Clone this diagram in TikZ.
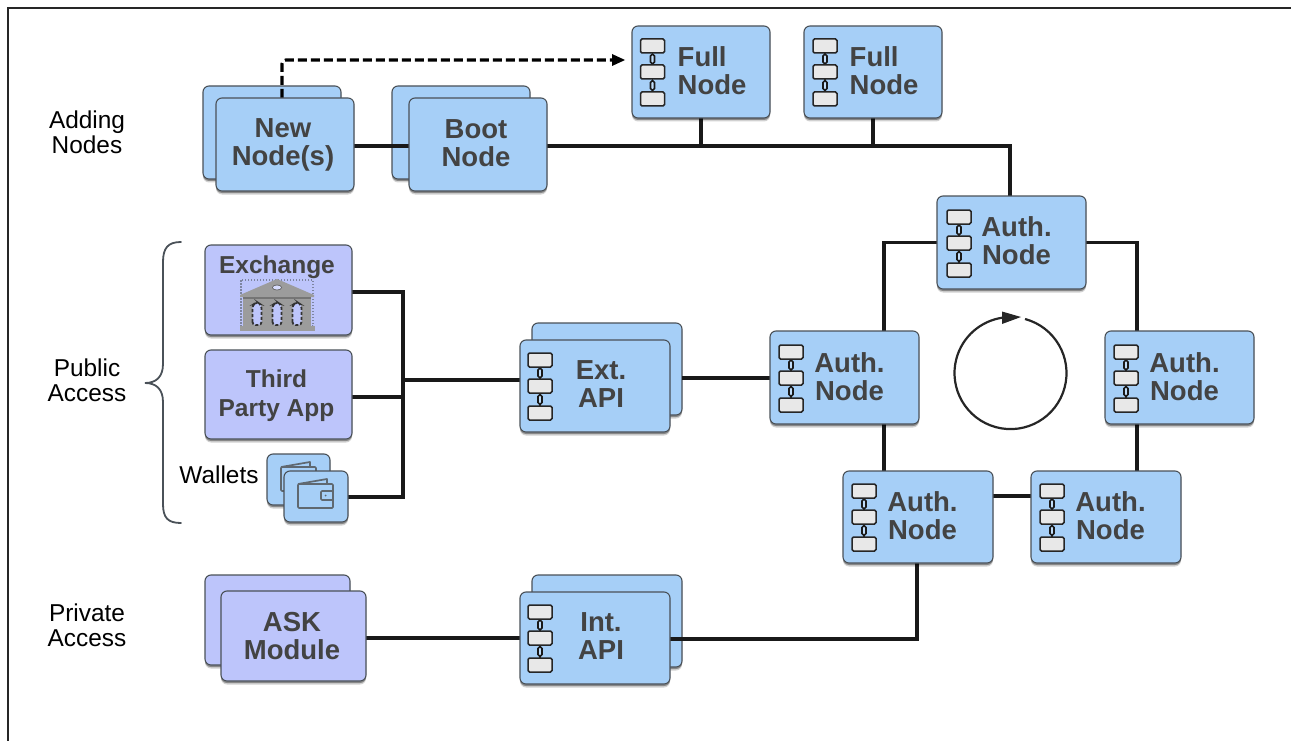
\documentclass[tikz,border=0pt]{standalone}
\usepackage{fontspec}
\setmainfont{Liberation Sans}
\usetikzlibrary{shadows,arrows.meta}
\definecolor{boxblue}{HTML}{A6CFF7}
\definecolor{boxlav}{HTML}{BDC5FB}
\definecolor{boxedge}{HTML}{4A5158}
\definecolor{boxtext}{HTML}{434343}
\definecolor{wgray}{HTML}{5F6870}
\definecolor{bank}{HTML}{9C9C9C}
\pgfdeclarelayer{backboxes}
\pgfdeclarelayer{wires}
\pgfsetlayers{backboxes,wires,main}
\tikzset{
  x=1pt,y=-1pt,
  panel/.style={draw=boxedge,line width=1.1pt,rounded corners=6pt,inner sep=0pt,outer sep=0pt,
     general shadow={shadow xshift=0pt,shadow yshift=-3.5pt,opacity=.18,fill=black},
     general shadow={shadow xshift=0pt,shadow yshift=-2pt,opacity=.35,fill=black}},
  blue/.style={panel,fill=boxblue},
  lav/.style={panel,fill=boxlav},
  bigt/.style={font=\fontsize{27.5}{28.5}\selectfont\bfseries,text=boxtext,inner sep=0pt,align=center},
  smallt/.style={font=\fontsize{24.5}{29}\selectfont\bfseries,text=boxtext,inner sep=0pt,align=center},
  side/.style={font=\fontsize{24.4}{25}\selectfont,text=black,inner sep=0pt,align=center},
  wire/.style={draw=black!90,line width=3.5pt,line cap=butt,line join=miter},
  chainbox/.style={draw=black!85,fill=black!9,line width=1.5pt,rounded corners=1.5pt},
  chainlink/.style={draw=black!90,fill=boxblue!70!white,line width=1.7pt,rounded corners=1.5pt},
  wallet/.style={draw=wgray,line width=1.7pt,line join=round},
}
\newcommand{\mybox}[6]{% style, name, x1,y1,x2,y2
  \pgfmathsetmacro{\bcx}{(#3+#5)/2}\pgfmathsetmacro{\bcy}{(#4+#6)/2}
  \pgfmathsetmacro{\bw}{#5-#3}\pgfmathsetmacro{\bh}{#6-#4}
  \node[#1,minimum width=\bw pt,minimum height=\bh pt] (#2) at (\bcx,\bcy) {};
}
\newcommand{\chainicon}[2]{% x centre, y centre
  \begin{scope}[shift={(#1,#2)}]
    \draw[black!85,line width=1.2pt] (0,-26) -- (0,27);
    \draw[chainlink] (-2,-17.5) rectangle (2,-8.5);
    \draw[chainlink] (-2,9) rectangle (2,18);
    \draw[chainbox] (-12,-33) rectangle (12,-19);
    \draw[chainbox] (-12,-7) rectangle (12,7);
    \draw[chainbox] (-12,20) rectangle (12,34);
  \end{scope}
}
\newcommand{\walleticon}[2]{%
  \begin{scope}[shift={(#1,#2)}]
    \draw[wallet,fill=boxblue] (0,6) -- (29,1) -- (29,6);
    \draw[wallet,fill=boxblue,rounded corners=1pt] (0,6) rectangle (35,30);
    \draw[wallet,fill=boxblue,rounded corners=1pt] (23,13) rectangle (35,22);
    \fill[wgray] (27.5,17.5) circle (1pt);
  \end{scope}
}
\begin{document}
\begin{tikzpicture}
\useasboundingbox (0,0) rectangle (1291,741);
\draw[black!85,line width=1.2pt] (8,741) -- (8,8) -- (1291,8);

% back boxes
\begin{pgfonlayer}{backboxes}
  \mybox{blue}{newb}{203}{86}{341}{179}
  \mybox{blue}{bootb}{392}{86}{530}{179}
  \mybox{blue}{extb}{532}{323}{682}{415}
  \mybox{blue}{intb}{532}{575}{682}{667}
  \mybox{lav}{askb}{205}{575}{350}{665}
\end{pgfonlayer}

% front boxes
\mybox{blue}{newf}{216}{98}{354}{191}
\mybox{blue}{bootf}{409}{98}{547}{191}
\mybox{blue}{fullA}{632}{26}{770}{118}
\mybox{blue}{fullB}{804}{26}{942}{118}
\mybox{blue}{authT}{937}{196}{1086}{289}
\mybox{blue}{authL}{770}{331}{919}{424}
\mybox{blue}{authR}{1105}{331}{1254}{424}
\mybox{blue}{authBL}{843}{471}{993}{563}
\mybox{blue}{authBR}{1031}{471}{1181}{563}
\mybox{blue}{extf}{520}{340}{670}{432}
\mybox{blue}{intf}{520}{592}{670}{684}
\mybox{lav}{askf}{221}{591}{366}{681}
\mybox{lav}{exch}{205}{245}{352}{335}
\mybox{lav}{third}{205}{350}{352}{439}
\mybox{blue}{walletb}{267}{454}{330}{505}
\walleticon{281}{461}
\mybox{blue}{walletf}{284}{471}{348}{522}
\walleticon{298}{478}

% connectors
\begin{pgfonlayer}{wires}
  \coordinate (hubExt) at (403,380);
  \coordinate (dashTop) at (282,60);
  \coordinate (fullIn) at (625,60);
  \draw[wire] (newf.east |- 0,146) -- (bootf.west |- 0,146);
  \draw[wire] (bootf.east |- 0,146) -- (1010,146) -- (1010,196);
  \draw[wire] (fullA.south) -- (fullA.south |- 0,146);
  \draw[wire] (fullB.south) -- (fullB.south |- 0,146);
  \draw[wire] (authT.west) -- (884,242.5) -- (884,331);
  \draw[wire] (authT.east) -- (1137,242.5) -- (1137,331);
  \draw[wire] (884,424) -- (884,471);
  \draw[wire] (1137,424) -- (1137,471);
  \draw[wire] (authBL.east |- 0,496) -- (authBR.west |- 0,496);
  \draw[wire] (authL.west |- 0,378) -- (extb.east |- 0,378);
  \draw[wire] (extf.west |- hubExt) -- (hubExt);
  \draw[wire] (exch.east |- 0,292) -- (403,292) -- (403,497) -- (walletf.east |- 0,497);
  \draw[wire] (third.east |- 0,397) -- (403,397);
  \draw[wire] (intf.east |- 0,639) -- (917,639) -- (917,563);
  \draw[wire] (askf.east |- 0,638) -- (intf.west |- 0,638);
  \draw[line width=3.2pt,black,dash pattern=on 9pt off 4pt,rounded corners=4pt]
    (newf.north -| dashTop) -- (dashTop) -- (615,60);
  \fill[black] (fullIn) -- (612,54) -- (612,66) -- cycle;
\end{pgfonlayer}

% chains
\chainicon{652.5}{72}
\chainicon{825}{72}
\chainicon{959}{243}
\chainicon{791}{378}
\chainicon{1126}{378}
\chainicon{864}{517}
\chainicon{1052}{517}
\chainicon{540}{386}
\chainicon{540}{638}

% texts
\node[bigt] (tNew) at (283,145) {New\\Node(s)};
\node[bigt] (tBoot) at (476,143) {Boot\\Node};
\node[bigt,align=left,anchor=west] (tFullA) at (677.5,70.5) {Full\\Node};
\node[bigt,align=left,anchor=west] (tFullB) at (849.5,70.5) {Full\\Node};
\node[bigt] (tAT) at (1016.5,240.5) {Auth.\\Node};
\node[bigt] (tAL) at (849.5,376.5) {Auth.\\Node};
\node[bigt] (tAR) at (1184.5,376.5) {Auth.\\Node};
\node[bigt] (tABL) at (922.5,515.5) {Auth.\\Node};
\node[bigt] (tABR) at (1110.5,515.5) {Auth.\\Node};
\node[bigt] (tExt) at (601,384) {Ext.\\API};
\node[bigt] (tInt) at (601,636) {Int.\\API};
\node[bigt] (tAsk) at (292,636) {ASK\\Module};
\node[smallt] (tEx) at (277,267) {Exchange};
\node[smallt] (tThird) at (276.5,396) {Third\\Party App};
\node[side] (tAdd) at (87,132.5) {Adding\\Nodes};
\node[side] (tPub) at (87,380) {Public\\Access};
\node[side] (tPriv) at (87,625) {Private\\Access};
\node[side] (tWal) at (219,474.5) {Wallets};

% bank
\draw[boxedge,dash pattern=on 1.5pt off 1.5pt,line width=1.6pt,opacity=.55] (241,280) rectangle (313,326);
\fill[bank] (277,279) -- (314,295) -- (314,297) -- (240,297) -- (240,295) -- cycle;
\fill[bank] (243,297) rectangle (311,326);
\fill[bank!75!black] (243,296.5) rectangle (311,299);
\fill[bank] (240,326) rectangle (315,331);
\draw[bank!65!black,line width=.8pt] (277,287.5) ellipse (4.5 and 2.5);
\fill[boxlav!60!white] (277,287.5) ellipse (4 and 2);
\foreach \wx in {257,277,297}{
  \draw[black!80,fill=boxlav,line width=1.8pt,dash pattern=on 3pt off 2pt,rounded corners=3pt]
     (\wx-4.5,325) -- (\wx-4.5,305) -- (\wx,302) -- (\wx+4.5,305) -- (\wx+4.5,325) -- cycle;
}

% brace
\draw[boxedge,line width=1.8pt,line cap=round]
  (181,242) .. controls (168,242) and (163,248) .. (163,262)
  -- (163,364) .. controls (163,377) and (156,383) .. (145,383)
  .. controls (156,383) and (163,389) .. (163,402)
  -- (163,504) .. controls (163,518) and (168,523) .. (181,523);

% cycle
\draw[black!85,line width=2.2pt] (1025,319) arc[start angle=-75,end angle=262,radius=56];
\fill[black!85] (1021,317) -- (1002,311.5) -- (1002,324) -- cycle;
\end{tikzpicture}
\end{document}
